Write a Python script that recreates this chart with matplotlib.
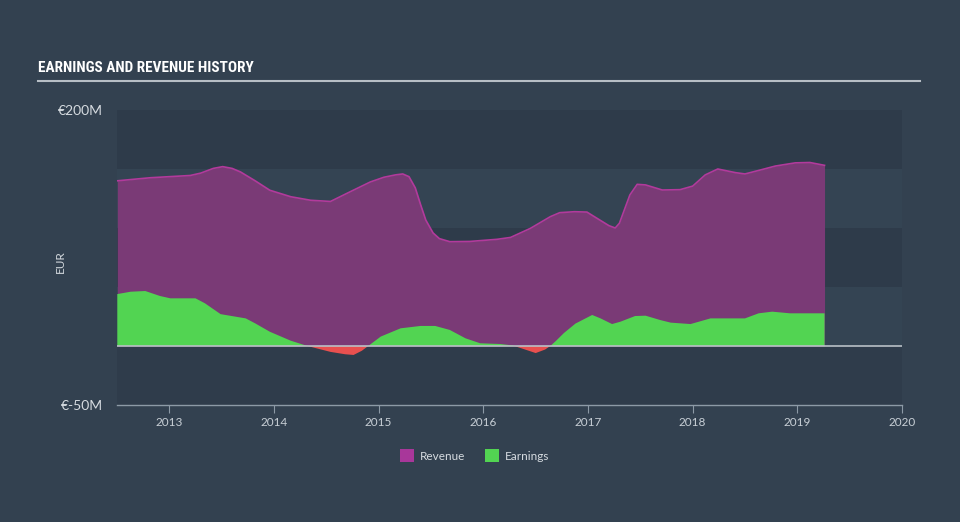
import matplotlib
matplotlib.use("Agg")
import matplotlib.pyplot as plt
from matplotlib import font_manager
import numpy as np
from matplotlib.patches import Rectangle

rev_years = [2012.503, 2012.82, 2013.20, 2013.30, 2013.42, 2013.51, 2013.60, 2013.68, 2013.82, 2013.96,
             2014.16, 2014.35, 2014.54, 2014.73, 2014.92, 2015.05, 2015.16, 2015.23, 2015.29, 2015.35,
             2015.40, 2015.45, 2015.52, 2015.58, 2015.68, 2015.87, 2016.13, 2016.26, 2016.45, 2016.64,
             2016.73, 2016.87, 2016.99, 2017.09, 2017.20, 2017.26, 2017.30, 2017.35, 2017.40, 2017.47,
             2017.55, 2017.71, 2017.88, 2018.00, 2018.12, 2018.24, 2018.41, 2018.50, 2018.64, 2018.79,
             2018.98, 2019.12, 2019.26]
revenue = [140, 142.6, 144.5, 146.5, 150.5, 152, 150.5, 147.5, 140, 132,
           126.5, 123.5, 122.5, 130.8, 139, 143, 145, 145.8, 143.5, 134,
           120, 106.8, 95.8, 91, 88.4, 88.6, 90.4, 92, 99.7, 109.6,
           113, 113.8, 113.5, 108, 102, 100, 104, 116, 128, 137,
           136.5, 132.2, 132.5, 135.5, 145, 150, 146.9, 145.8, 149, 152.5,
           155.2, 155.5, 153.1]

earn_years = [2012.503, 2012.63, 2012.77, 2012.91, 2013.01, 2013.25, 2013.34, 2013.49, 2013.63, 2013.73,
              2013.82, 2013.96, 2014.16, 2014.32, 2014.54, 2014.68, 2014.76, 2014.84, 2014.90, 2015.02,
              2015.21, 2015.40, 2015.54, 2015.68, 2015.83, 2015.97, 2016.16, 2016.28, 2016.45, 2016.50,
              2016.59, 2016.64, 2016.69, 2016.77, 2016.88, 2017.04, 2017.12, 2017.23, 2017.31, 2017.45,
              2017.55, 2017.69, 2017.79, 2017.98, 2018.17, 2018.50, 2018.63, 2018.76, 2018.93, 2019.26]
earnings = [44, 46, 46.6, 42.4, 40.4, 40.4, 36.2, 27, 24.9, 23.4,
            19.2, 12.1, 4.5, 0, -5, -7, -7.6, -4, 0, 8,
            15, 17, 17, 13.6, 6.5, 2.3, 1.7, 0.5, -4.5, -6,
            -3, 0, 4, 11, 19, 26.3, 23.4, 18.6, 20.6, 25.4,
            25.7, 22, 19.8, 18.6, 23.4, 23.4, 27.7, 29.1, 27.7, 27.7]

x_ticks = [2013, 2014, 2015, 2016, 2017, 2018, 2019, 2020]
y_ticks = [-50, 200]
y_tick_labels = ["€-50M", "€200M"]
band_edges = [-50, 0, 50, 100, 150, 200]

BG = "#334150"
REV_FILL = "#7a3a76"
REV_LINE = "#b23a9c"
EARN_GREEN = "#52d452"
EARN_RED = "#e8504f"
TEXT = "#d6dbe0"

# pick a condensed font for the title if available
names = sorted({f.name for f in font_manager.fontManager.ttflist})
title_family = None
for cand in ["Liberation Sans Narrow", "DejaVu Sans Condensed", "Roboto Condensed", "Open Sans Condensed"]:
    if cand in names:
        title_family = cand
        break
if title_family is None:
    for n in names:
        if "Condensed" in n or "Narrow" in n:
            title_family = n
            break
if title_family is None:
    title_family = "DejaVu Sans"
    title_size = 8.5
else:
    title_size = 11

fig = plt.figure(figsize=(9.6, 5.22), dpi=100, facecolor=BG)
ax = fig.add_axes([117/960, (522-405)/522, (902-117)/960, (405-110)/522])
ax.set_facecolor(BG)
ax.set_xlim(2012.5, 2020)
ax.set_ylim(-50, 200)

band_colors = ["#2f3c4b", "#344453", "#2e3b4a", "#344453", "#2e3b4a"]
for i in range(len(band_edges) - 1):
    ax.axhspan(band_edges[i], band_edges[i+1], color=band_colors[i], lw=0, zorder=0)

rx = np.array(rev_years); ry = np.array(revenue)
ex = np.array(earn_years); ey = np.array(earnings)

ax.fill_between(rx, 0, ry, color=REV_FILL, lw=0, zorder=1)
ax.plot(rx, ry, color=REV_LINE, lw=1.2, zorder=3, solid_joinstyle="round")
ax.fill_between(ex, 0, ey, where=ey >= 0, interpolate=True, color=EARN_GREEN, lw=0, zorder=2)
ax.fill_between(ex, 0, ey, where=ey <= 0, interpolate=True, color=EARN_RED, lw=0, zorder=2)
ax.axhline(0, color="#b9c0c6", lw=1.2, zorder=4)

for s in ["top", "right", "left"]:
    ax.spines[s].set_visible(False)
ax.spines["bottom"].set_color("#8d9aa6")
ax.spines["bottom"].set_linewidth(1.0)

ax.set_xticks(x_ticks)
ax.set_xticklabels([str(t) for t in x_ticks], fontsize=8.5, color="#c8cfd6", family="Lato")
ax.tick_params(axis="x", length=6, width=0.8, color="#8d9aa6", pad=3)
ax.set_yticks(y_ticks)
ax.set_yticklabels(y_tick_labels, fontsize=10, color=TEXT, family="Lato")
ax.tick_params(axis="y", length=0, pad=10)
fig.text(60/960, 1 - 262/522, "EUR", color=TEXT, fontsize=8.5, family="Lato",
         rotation=90, va="center", ha="center")

fig.text(38/960, 1 - 68/522, "EARNINGS AND REVENUE HISTORY", color="white",
         fontsize=title_size, fontweight="bold", family=[title_family, "DejaVu Sans"],
         va="center", ha="left")
fig.add_artist(plt.Line2D([38/960, 920/960], [1 - 81/522, 1 - 81/522], color="#b7bec5", lw=1.5))

# legend
lx = [400, 485]
labels = ["Revenue", "Earnings"]
cols = ["#a8379a", EARN_GREEN]
for x0, lab, c in zip(lx, labels, cols):
    fig.add_artist(Rectangle((x0/960, 1 - 462/522), 14/960, 13/522, transform=fig.transFigure,
                             facecolor=c, edgecolor="none"))
    fig.text((x0 + 20)/960, 1 - 456/522, lab, color=TEXT, fontsize=8.5, family="Lato",
             va="center", ha="left")

fig.savefig("out.png", dpi=100, facecolor=BG)
